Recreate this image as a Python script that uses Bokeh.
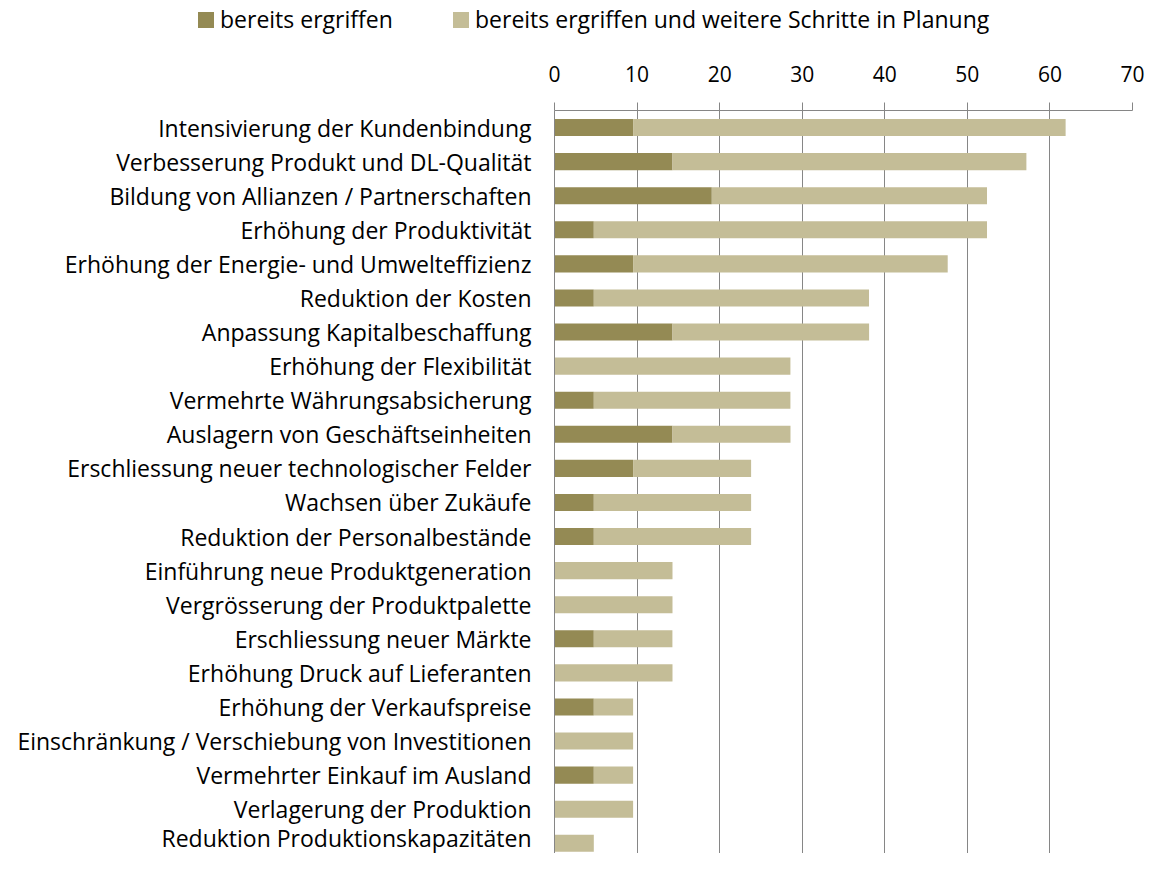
from bokeh.plotting import figure
from bokeh.layouts import column
from bokeh.models import ColumnDataSource, Range1d, FixedTicker, Div
from bokeh.embed import file_html
from bokeh.resources import INLINE

categories = [
    "Intensivierung der Kundenbindung",
    "Verbesserung Produkt und DL-Qualität",
    "Bildung von Allianzen / Partnerschaften",
    "Erhöhung der Produktivität",
    "Erhöhung der Energie- und Umwelteffizienz",
    "Reduktion der Kosten",
    "Anpassung Kapitalbeschaffung",
    "Erhöhung der Flexibilität",
    "Vermehrte Währungsabsicherung",
    "Auslagern von Geschäftseinheiten",
    "Erschliessung neuer technologischer Felder",
    "Wachsen über Zukäufe",
    "Reduktion der Personalbestände",
    "Einführung neue Produktgeneration",
    "Vergrösserung der Produktpalette",
    "Erschliessung neuer Märkte",
    "Erhöhung Druck auf Lieferanten",
    "Erhöhung der Verkaufspreise",
    "Einschränkung / Verschiebung von Investitionen",
    "Vermehrter Einkauf im Ausland",
    "Verlagerung der Produktion",
    "Reduktion Produktionskapazitäten",
]
bereits = [9.52, 14.29, 19.05, 4.76, 9.52, 4.76, 14.29, 0, 4.76, 14.29, 9.52,
           4.76, 4.76, 0, 0, 4.76, 0, 4.76, 0, 4.76, 0, 0]
geplant = [52.38, 42.86, 33.33, 47.62, 38.10, 33.33, 23.81, 28.57, 23.81, 14.29,
           14.29, 19.05, 19.05, 14.29, 14.29, 9.52, 14.29, 4.76, 9.52, 4.76, 9.52, 4.76]
x_ticks = [0, 10, 20, 30, 40, 50, 60, 70]
series_labels = ["bereits ergriffen", "bereits ergriffen und weitere Schritte in Planung"]

FONT = "Open Sans"
DARK = "#948A54"
LIGHT = "#C4BD97"
GRID = "#868686"
W = 1146
LEG_H = 40
TOTAL_H = 853

ypos = list(range(len(categories)))
src = ColumnDataSource(dict(
    y=ypos,
    b0=[0] * len(ypos),
    b1=bereits,
    b2=[a + b for a, b in zip(bereits, geplant)],
))

p = figure(width=W, height=TOTAL_H - LEG_H, output_backend="svg", toolbar_location=None,
           x_range=Range1d(0, 70), y_range=Range1d(21.3, -0.5),
           x_axis_location="above",
           min_border_left=554, min_border_right=14, min_border_top=110 - LEG_H,
           min_border_bottom=0)
p.outline_line_color = None

p.hbar(y="y", left="b0", right="b1", height=0.5, source=src, fill_color=DARK, line_color=None)
p.hbar(y="y", left="b1", right="b2", height=0.5, source=src, fill_color=LIGHT, line_color=None)

xa = p.xaxis[0]
xa.ticker = FixedTicker(ticks=x_ticks)
xa.axis_line_color = GRID
xa.major_tick_line_color = GRID
xa.major_tick_out = 8
xa.major_tick_in = 0
xa.minor_tick_line_color = None
xa.major_label_text_font = FONT
xa.major_label_text_font_size = "21px"
xa.major_label_text_color = "#000000"
xa.major_label_standoff = 21

ya = p.yaxis[0]
ya.ticker = FixedTicker(ticks=ypos)
ya.major_label_overrides = {i: c for i, c in enumerate(categories)}
ya.axis_line_color = GRID
ya.major_tick_line_color = None
ya.major_tick_out = 0
ya.major_tick_in = 0
ya.minor_tick_line_color = None
ya.major_label_text_font = FONT
ya.major_label_text_font_size = "23px"
ya.major_label_text_color = "#000000"
ya.major_label_standoff = 23

p.ygrid.grid_line_color = None
p.xgrid.ticker = FixedTicker(ticks=x_ticks)
p.xgrid.grid_line_color = GRID
p.xgrid.grid_line_width = 1

# legend strip above the chart
legend_colors = [DARK, LIGHT]
legend_left = [198, 453]
parts = []
for lab, col, x0 in zip(series_labels, legend_colors, legend_left):
    parts.append(
        f'<span style="position:absolute;left:{x0}px;top:12px;width:16px;height:16px;'
        f'background:{col};"></span>'
        f'<span style="position:absolute;left:{x0 + 22}px;top:4px;line-height:30px;'
        f'white-space:nowrap;">{lab}</span>'
    )
legend_div = Div(
    text=(f'<div style="position:relative;width:{W}px;height:{LEG_H}px;'
          f"font-family:'{FONT}';font-size:23px;color:#000;\">" + "".join(parts) + "</div>"),
    width=W, height=LEG_H, margin=0,
)

layout = column(legend_div, p, spacing=0)
open("out.html", "w").write(file_html(layout, INLINE))
